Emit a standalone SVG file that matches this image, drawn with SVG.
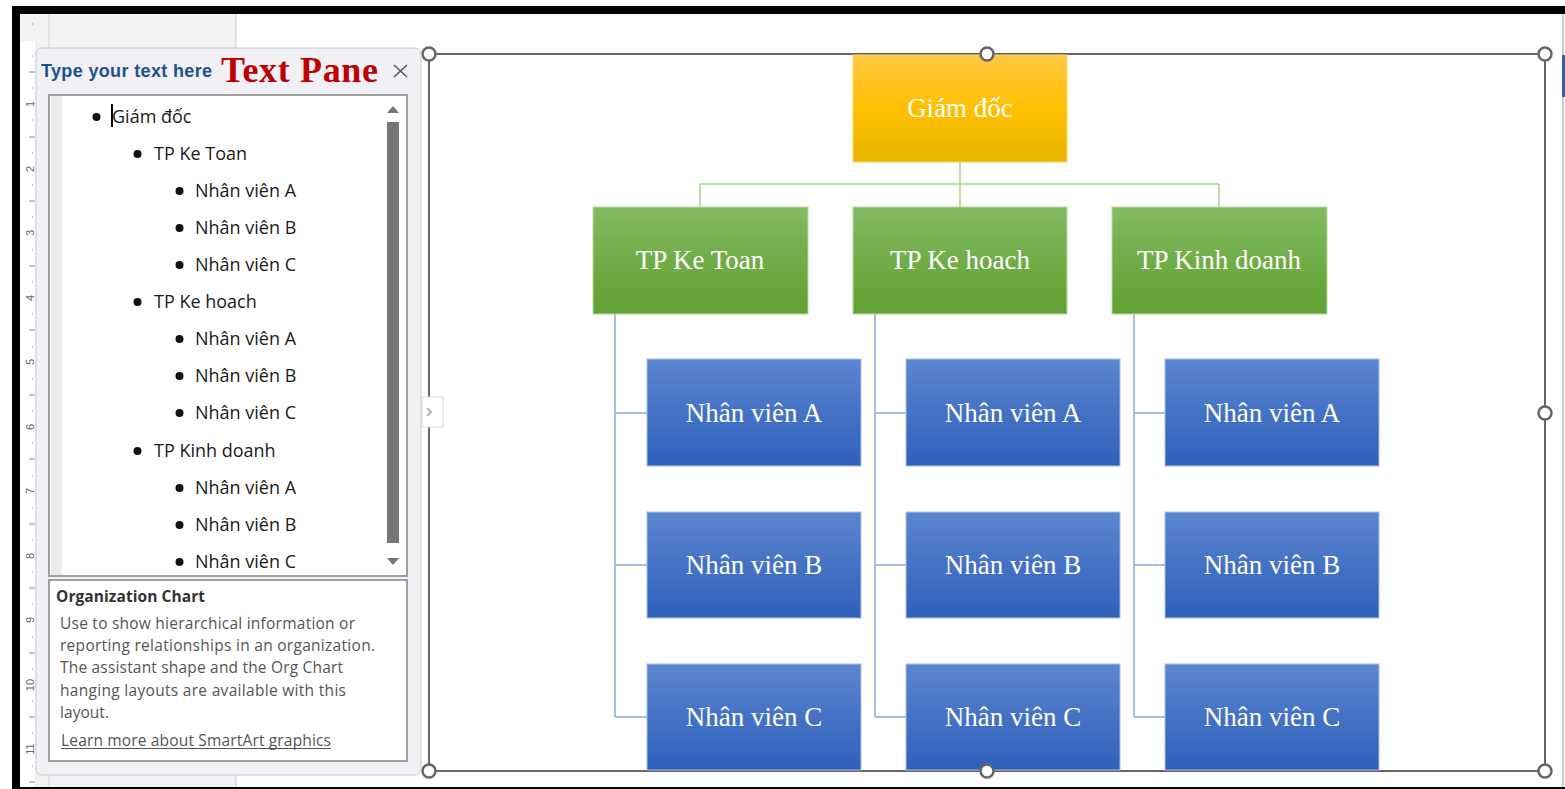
<svg xmlns="http://www.w3.org/2000/svg" width="1565" height="789" viewBox="0 0 1565 789">
  <defs>
    <linearGradient id="gOrange" x1="0" y1="0" x2="0" y2="1">
      <stop offset="0" stop-color="#ffc843"/>
      <stop offset="0.5" stop-color="#ffc000"/>
      <stop offset="1" stop-color="#e6b400"/>
    </linearGradient>
    <linearGradient id="gGreen" x1="0" y1="0" x2="0" y2="1">
      <stop offset="0" stop-color="#83bb63"/>
      <stop offset="0.5" stop-color="#70ad47"/>
      <stop offset="1" stop-color="#62a134"/>
    </linearGradient>
    <linearGradient id="gBlue" x1="0" y1="0" x2="0" y2="1">
      <stop offset="0" stop-color="#5d85d0"/>
      <stop offset="0.5" stop-color="#4472c4"/>
      <stop offset="1" stop-color="#2f60bb"/>
    </linearGradient>
    <style>
      .lbl{font-family:"Liberation Serif","Times New Roman",serif;font-size:27px;fill:#ffffff;text-anchor:middle}
      .li{font-family:"Open Sans","Noto Sans",sans-serif;font-size:18px;fill:#1a1a1a}
      .desc{font-family:"Open Sans","Noto Sans",sans-serif;font-size:15.5px;fill:#555555}
      .rn{font-family:"Liberation Sans",Arial,sans-serif;font-size:11px;fill:#666666;text-anchor:middle}
      .handle{fill:#ffffff;stroke:#666666;stroke-width:2.5}
      .orange{fill:url(#gOrange);stroke:#ffd66b;stroke-width:1}
      .green{fill:url(#gGreen);stroke:#b6dba0;stroke-width:1}
      .blue{fill:url(#gBlue);stroke:#a9c0e8;stroke-width:1}
      .cg{stroke:#a6d48a;stroke-width:1.5;fill:none}
      .cb{stroke:#8eaadb;stroke-width:1.5;fill:none}
      .bul{fill:#111111}
    </style>
  </defs>

  <!-- background / window chrome -->
  <rect x="0" y="0" width="1565" height="789" fill="#ffffff"/>
  <rect x="20" y="14" width="216" height="775" fill="#f2f2f2"/>
  <rect x="20" y="41" width="16" height="746" fill="#ffffff"/>
  <line x1="36" y1="41" x2="36" y2="787" stroke="#e0e0e0" stroke-width="1"/>
  <line x1="49" y1="14" x2="49" y2="789" stroke="#d4d4d4" stroke-width="1"/>
  <line x1="236" y1="14" x2="236" y2="789" stroke="#c8c8c8" stroke-width="1"/>
  <line x1="1563" y1="14" x2="1563" y2="789" stroke="#9a9a9a" stroke-width="1"/>
  <rect x="1562" y="55" width="3" height="42" fill="#2f5fa8"/>
  <rect x="12" y="6" width="1553" height="8" fill="#000000"/>
  <rect x="12" y="6" width="8" height="783" fill="#000000"/>
  <rect x="12" y="787" width="1553" height="2" fill="#000000"/>

  <!-- ruler -->
  <g id="ruler" stroke="#888888" stroke-width="1">
    <line x1="32" y1="24" x2="33" y2="24"/>
    <line x1="32" y1="56" x2="33" y2="56"/>
    <line x1="29" y1="72" x2="35" y2="72"/>
    <line x1="32" y1="88" x2="33" y2="88"/>
    <line x1="32" y1="120" x2="33" y2="120"/><line x1="29" y1="137" x2="35" y2="137"/><line x1="32" y1="153" x2="33" y2="153"/>
    <line x1="32" y1="185" x2="33" y2="185"/><line x1="29" y1="201" x2="35" y2="201"/><line x1="32" y1="217" x2="33" y2="217"/>
    <line x1="32" y1="250" x2="33" y2="250"/><line x1="29" y1="266" x2="35" y2="266"/><line x1="32" y1="282" x2="33" y2="282"/>
    <line x1="32" y1="314" x2="33" y2="314"/><line x1="29" y1="330" x2="35" y2="330"/><line x1="32" y1="347" x2="33" y2="347"/>
    <line x1="32" y1="379" x2="33" y2="379"/><line x1="29" y1="395" x2="35" y2="395"/><line x1="32" y1="411" x2="33" y2="411"/>
    <line x1="32" y1="443" x2="33" y2="443"/><line x1="29" y1="459" x2="35" y2="459"/><line x1="32" y1="476" x2="33" y2="476"/>
    <line x1="32" y1="508" x2="33" y2="508"/><line x1="29" y1="524" x2="35" y2="524"/><line x1="32" y1="540" x2="33" y2="540"/>
    <line x1="32" y1="572" x2="33" y2="572"/><line x1="29" y1="588" x2="35" y2="588"/><line x1="32" y1="604" x2="33" y2="604"/>
    <line x1="32" y1="637" x2="33" y2="637"/><line x1="29" y1="653" x2="35" y2="653"/><line x1="32" y1="669" x2="33" y2="669"/>
    <line x1="32" y1="701" x2="33" y2="701"/><line x1="29" y1="717" x2="35" y2="717"/><line x1="32" y1="733" x2="33" y2="733"/>
    <line x1="32" y1="766" x2="33" y2="766"/><line x1="29" y1="782" x2="35" y2="782"/>
  </g>
  <g id="ruler-numbers">
    <text class="rn" transform="translate(34,104) rotate(-90)">1</text>
    <text class="rn" transform="translate(34,169) rotate(-90)">2</text>
    <text class="rn" transform="translate(34,233) rotate(-90)">3</text>
    <text class="rn" transform="translate(34,298) rotate(-90)">4</text>
    <text class="rn" transform="translate(34,362) rotate(-90)">5</text>
    <text class="rn" transform="translate(34,427) rotate(-90)">6</text>
    <text class="rn" transform="translate(34,491) rotate(-90)">7</text>
    <text class="rn" transform="translate(34,556) rotate(-90)">8</text>
    <text class="rn" transform="translate(34,620) rotate(-90)">9</text>
    <text class="rn" transform="translate(34,685) rotate(-90)">10</text>
    <text class="rn" transform="translate(34,749) rotate(-90)">11</text>
  </g>

  <!-- SmartArt selection frame -->
  <g id="frame">
    <rect x="429" y="54" width="1116" height="717" fill="none" stroke="#666666" stroke-width="2"/>
  </g>

  <!-- connectors -->
  <g id="connectors">
    <path class="cg" d="M960,162 V184 M700,184 H1219 M700,184 V207 M960,184 V207 M1219,184 V207"/>
    <path class="cb" d="M615,314 V717 M615,413 H647 M615,565 H647 M615,717 H647"/>
    <path class="cb" d="M875,314 V717 M875,413 H906 M875,565 H906 M875,717 H906"/>
    <path class="cb" d="M1134,314 V717 M1134,413 H1165 M1134,565 H1165 M1134,717 H1165"/>
  </g>

  <!-- nodes -->
  <g id="giam-doc"><rect class="orange" x="853" y="55" width="214" height="107"/><text class="lbl" x="960" y="117">Giám đốc</text></g>
  <g id="tp-ke-toan"><rect class="green" x="593" y="207" width="215" height="107"/><text class="lbl" x="700" y="269">TP Ke Toan</text></g>
  <g id="tp-ke-hoach"><rect class="green" x="853" y="207" width="214" height="107"/><text class="lbl" x="960" y="269">TP Ke hoach</text></g>
  <g id="tp-kinh-doanh"><rect class="green" x="1112" y="207" width="215" height="107"/><text class="lbl" x="1219" y="269">TP Kinh doanh</text></g>

  <g id="kt-a"><rect class="blue" x="647" y="359" width="214" height="107"/><text class="lbl" x="754" y="422">Nhân viên A</text></g>
  <g id="kt-b"><rect class="blue" x="647" y="512" width="214" height="106"/><text class="lbl" x="754" y="574">Nhân viên B</text></g>
  <g id="kt-c"><rect class="blue" x="647" y="664" width="214" height="106"/><text class="lbl" x="754" y="726">Nhân viên C</text></g>

  <g id="kh-a"><rect class="blue" x="906" y="359" width="214" height="107"/><text class="lbl" x="1013" y="422">Nhân viên A</text></g>
  <g id="kh-b"><rect class="blue" x="906" y="512" width="214" height="106"/><text class="lbl" x="1013" y="574">Nhân viên B</text></g>
  <g id="kh-c"><rect class="blue" x="906" y="664" width="214" height="106"/><text class="lbl" x="1013" y="726">Nhân viên C</text></g>

  <g id="kd-a"><rect class="blue" x="1165" y="359" width="214" height="107"/><text class="lbl" x="1272" y="422">Nhân viên A</text></g>
  <g id="kd-b"><rect class="blue" x="1165" y="512" width="214" height="106"/><text class="lbl" x="1272" y="574">Nhân viên B</text></g>
  <g id="kd-c"><rect class="blue" x="1165" y="664" width="214" height="106"/><text class="lbl" x="1272" y="726">Nhân viên C</text></g>

  <!-- frame handles -->
  <g id="handles">
    <circle class="handle" cx="429" cy="54" r="6.5"/>
    <circle class="handle" cx="987" cy="54" r="6.5"/>
    <circle class="handle" cx="1545" cy="54" r="6.5"/>
    <circle class="handle" cx="1545" cy="413" r="6.5"/>
    <circle class="handle" cx="1545" cy="771" r="6.5"/>
    <circle class="handle" cx="987" cy="771" r="6.5"/>
    <circle class="handle" cx="429" cy="771" r="6.5"/>
  </g>

  <!-- collapse tab -->
  <g id="collapse-tab">
    <rect x="422" y="397" width="21" height="30" fill="#ffffff" stroke="#dddddd" stroke-width="1"/>
    <path d="M427,408 L431,412 L427,416" fill="none" stroke="#999999" stroke-width="1.5"/>
  </g>

  <!-- text pane -->
  <g id="text-pane">
    <rect x="36" y="48" width="385" height="727" rx="6" fill="#f0f0f5" stroke="#c9ccd4" stroke-width="1"/>
    <text x="41" y="77" font-family="'Liberation Sans',Arial,sans-serif" font-size="18" font-weight="bold" fill="#1f4f8f" textLength="171">Type your text here</text>
    <text x="221" y="82" font-family="'Liberation Serif','Times New Roman',serif" font-size="36" font-weight="bold" fill="#c00000" textLength="157">Text Pane</text>
    <path d="M394,65 L407,77 M407,65 L394,77" stroke="#555555" stroke-width="1.5" fill="none"/>

    <rect x="49" y="95" width="358" height="481" fill="#ffffff" stroke="#a0a0a0" stroke-width="2"/>
    <rect x="51" y="96" width="11" height="479" fill="#ebebeb"/>
    <path d="M387,113 L393,106 L399,113 Z" fill="#767676"/>
    <rect x="387" y="122" width="12" height="421" fill="#767676"/>
    <path d="M387,558 L393,565 L399,558 Z" fill="#767676"/>

    <line x1="112" y1="104" x2="112" y2="127" stroke="#000000" stroke-width="2"/>

    <circle class="bul" cx="96.5" cy="117" r="4"/><text class="li" x="112" y="123">Giám đốc</text>
    <circle class="bul" cx="137.5" cy="154" r="4"/><text class="li" x="154" y="160">TP Ke Toan</text>
    <circle class="bul" cx="179.5" cy="191" r="4"/><text class="li" x="195" y="197">Nhân viên A</text>
    <circle class="bul" cx="179.5" cy="228" r="4"/><text class="li" x="195" y="234">Nhân viên B</text>
    <circle class="bul" cx="179.5" cy="265" r="4"/><text class="li" x="195" y="271">Nhân viên C</text>
    <circle class="bul" cx="137.5" cy="302" r="4"/><text class="li" x="154" y="308">TP Ke hoach</text>
    <circle class="bul" cx="179.5" cy="339" r="4"/><text class="li" x="195" y="345">Nhân viên A</text>
    <circle class="bul" cx="179.5" cy="376" r="4"/><text class="li" x="195" y="382">Nhân viên B</text>
    <circle class="bul" cx="179.5" cy="413" r="4"/><text class="li" x="195" y="419">Nhân viên C</text>
    <circle class="bul" cx="137.5" cy="451" r="4"/><text class="li" x="154" y="457">TP Kinh doanh</text>
    <circle class="bul" cx="179.5" cy="488" r="4"/><text class="li" x="195" y="494">Nhân viên A</text>
    <circle class="bul" cx="179.5" cy="525" r="4"/><text class="li" x="195" y="531">Nhân viên B</text>
    <circle class="bul" cx="179.5" cy="562" r="4"/><text class="li" x="195" y="568">Nhân viên C</text>

    <rect x="49" y="580" width="358" height="181" fill="#ffffff" stroke="#a0a0a0" stroke-width="2"/>
    <text x="56" y="602" font-family="'Open Sans','Noto Sans',sans-serif" font-size="15.5" font-weight="bold" fill="#333333" textLength="149">Organization Chart</text>
    <text class="desc" x="60" y="629" textLength="295">Use to show hierarchical information or</text>
    <text class="desc" x="60" y="651" textLength="315">reporting relationships in an organization.</text>
    <text class="desc" x="60" y="673" textLength="283">The assistant shape and the Org Chart</text>
    <text class="desc" x="60" y="696" textLength="286">hanging layouts are available with this</text>
    <text class="desc" x="60" y="718" textLength="49">layout.</text>
    <text class="desc" x="61" y="746" textLength="270" fill="#444444">Learn more about SmartArt graphics</text>
    <line x1="61" y1="748.5" x2="331" y2="748.5" stroke="#555555" stroke-width="1"/>
  </g>
</svg>
